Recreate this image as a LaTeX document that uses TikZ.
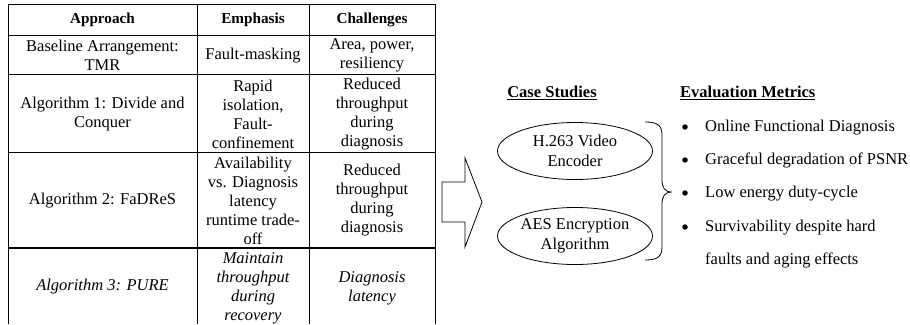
\documentclass[tikz,border=0pt]{standalone}
\usepackage{fontspec}
\setmainfont{Liberation Serif}
\usetikzlibrary{shapes.geometric}
\begin{document}
\begin{tikzpicture}[x=1pt,y=-1pt,
  grid/.style={line width=0.9pt},
  cell/.style={align=center, inner sep=0pt, font=\fontsize{16.5}{19}\selectfont},
  hdr/.style={inner sep=0pt, font=\fontsize{15.2}{18}\selectfont\bfseries},
  title/.style={inner sep=0pt, font=\fontsize{16.5}{19}\selectfont\bfseries},
  oval/.style={draw, line width=0.8pt, ellipse, minimum width=155pt, minimum height=57pt, inner sep=0pt, align=center, font=\fontsize{16.5}{20}\selectfont},
  item/.style={anchor=west, inner sep=0pt, text height=11.5pt, text depth=3.5pt, font=\fontsize{16.5}{19}\selectfont},
  dot/.style={circle, fill=black, inner sep=0pt, minimum size=5.5pt}
]
\useasboundingbox (0,0) rectangle (910,324);

% table grid
\draw[grid] (8,324) -- (8,4) -- (435,4) -- (435,324);
\draw[grid] (197,4) -- (197,324);
\draw[grid] (309,4) -- (309,324);
\draw[grid] (8,35) -- (435,35);
\draw[grid] (8,74) -- (435,74);
\draw[grid] (8,152) -- (435,152);
\draw[line width=1.3pt] (8,248) -- (435,248);

% header
\node[hdr] (h1) at (102.5,20) {Approach};
\node[hdr] (h2) at (253,20) {Emphasis};
\node[hdr] (h3) at (372,20) {Challenges};

% row 1
\node[cell] (a1) at (102.5,55) {Baseline Arrangement:\\TMR};
\node[cell] (e1) at (253,56) {Fault-masking};
\node[cell] (c1) at (372,55) {Area, power,\\resiliency};

% row 2
\node[cell] (a2) at (102.5,114) {Algorithm 1: Divide and\\Conquer};
\node[cell] (e2) at (253,114) {Rapid\\isolation,\\Fault-\\confinement};
\node[cell] (c2) at (372,114) {Reduced\\throughput\\during\\diagnosis};

% row 3
\node[cell] (a3) at (102.5,201) {Algorithm 2: FaDReS};
\node[cell] (e3) at (253,200.5) {Availability\\vs. Diagnosis\\latency\\runtime trade-\\off};
\node[cell] (c3) at (372,200.5) {Reduced\\throughput\\during\\diagnosis};

% row 4
\node[cell] (a4) at (102.5,287) {\itshape Algorithm 3: PURE};
\node[cell] (e4) at (253,288) {\itshape Maintain\\\itshape throughput\\\itshape during\\\itshape recovery};
\node[cell] (c4) at (372,288) {\itshape Diagnosis\\\itshape latency};

% block arrow
\draw[line width=0.8pt] (442,182) -- (465,182) -- (465,158) -- (482,202) -- (465,247) -- (465,222) -- (442,222) -- cycle;

% case studies
\node[title] (cs) at (552,93) {\underline{Case Studies}};
\node[oval] (v1) at (575,151) {H.263 Video\\Encoder};
\node[oval] (v2) at (575,236) {AES Encryption\\Algorithm};

% brace
\coordinate (bt) at (645,122);
\coordinate (bb) at (645,260);
\coordinate (bm) at (672,192);
\draw[line width=0.8pt] (bt) .. controls (657,122) and (662,125) .. (662,135) -- (662,180)
  .. controls (662,188) and (665,192) .. (bm)
  .. controls (665,192) and (662,196) .. (662,204) -- (662,247)
  .. controls (662,257) and (657,260) .. (bb);

% evaluation metrics
\node[title, anchor=west] (em) at (680,93) {\underline{Evaluation Metrics}};
\node[dot] (b1) at (685,127) {};
\node[dot] (b2) at (685,160) {};
\node[dot] (b3) at (685,193) {};
\node[dot] (b4) at (685,227) {};
\node[item] (t1) at (705,127) {Online Functional Diagnosis};
\node[item] (t2) at (705,160) {Graceful degradation of PSNR};
\node[item] (t3) at (705,193) {Low energy duty-cycle};
\node[item] (t4) at (705,227) {Survivability despite hard};
\node[item] (t5) at (705,260) {faults and aging effects};
\end{tikzpicture}
\end{document}
